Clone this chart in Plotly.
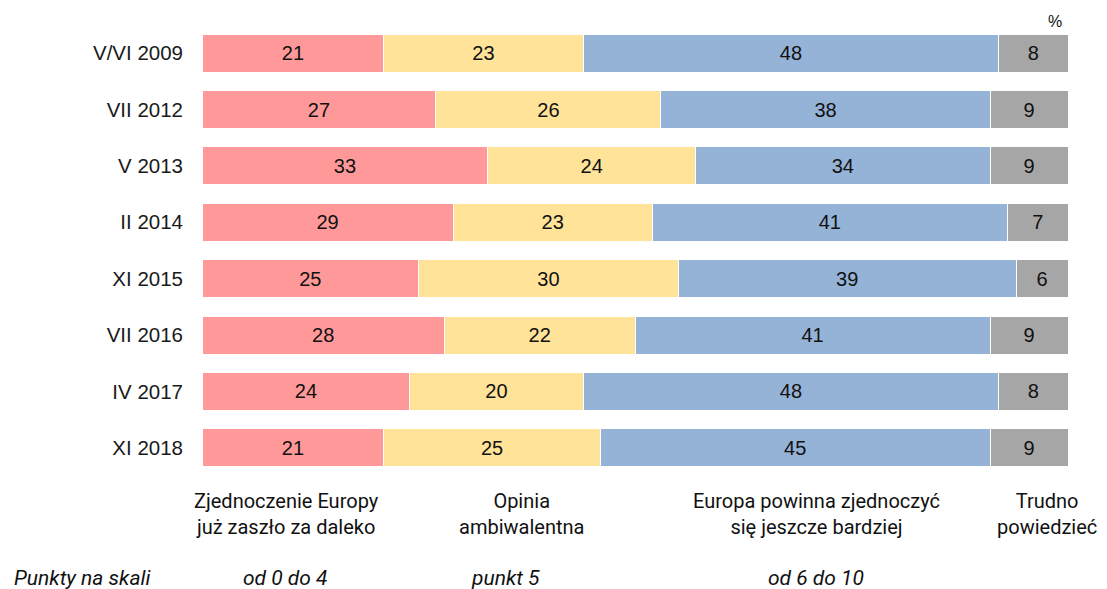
import plotly.graph_objects as go

periods = ["V/VI 2009", "VII 2012", "V 2013", "II 2014", "XI 2015", "VII 2016", "IV 2017", "XI 2018"]
too_far = [21, 27, 33, 29, 25, 28, 24, 21]
ambivalent = [23, 26, 24, 23, 30, 22, 20, 25]
unite_more = [48, 38, 34, 41, 39, 41, 48, 45]
hard_to_say = [8, 9, 9, 7, 6, 9, 8, 9]

series = [
    ("Zjednoczenie Europy już zaszło za daleko", too_far, "#FF9999"),
    ("Opinia ambiwalentna", ambivalent, "#FFE399"),
    ("Europa powinna zjednoczyć się jeszcze bardziej", unite_more, "#95B3D7"),
    ("Trudno powiedzieć", hard_to_say, "#A6A6A6"),
]

fig = go.Figure()
for name, vals, col in series:
    fig.add_trace(go.Bar(
        y=periods, x=vals, name=name, orientation="h",
        marker=dict(color=col, line=dict(color="white", width=1)),
        text=[str(v) for v in vals], textposition="inside",
        insidetextanchor="middle", textangle=0,
        textfont=dict(family="Liberation Sans, Arial", size=20, color="#111"),
        hoverinfo="skip",
    ))

OFF = 8  # page body margin
W, H = 1107 - OFF, 589 - OFF
L, R, T, B = 202 - OFF, 39, 25 - OFF, 113
pw = W - L - R
ph = H - T - B

def px(x):
    return (x - OFF - L) / pw

def py(y):
    return (H - B - (y - OFF)) / ph

annotations = []
cat_labels = [
    (286, "Zjednoczenie Europy<br>już zaszło za daleko"),
    (521, "Opinia<br>ambiwalentna"),
    (816, "Europa powinna zjednoczyć<br>się jeszcze bardziej"),
    (1047, "Trudno<br>powiedzieć"),
]
for x, t in cat_labels:
    annotations.append(dict(x=px(x), y=py(514), xref="paper", yref="paper", text=t,
                            showarrow=False, xanchor="center", yanchor="middle",
                            font=dict(family="Roboto", size=20, color="#111"),
                            align="center"))
scale_labels = [
    (82, "<i>Punkty na skali</i>"),
    (285, "<i>od 0 do 4</i>"),
    (505, "<i>punkt 5</i>"),
    (816, "<i>od 6 do 10</i>"),
]
for x, t in scale_labels:
    annotations.append(dict(x=px(x), y=py(578), xref="paper", yref="paper", text=t,
                            showarrow=False, xanchor="center", yanchor="middle",
                            font=dict(family="Roboto", size=21, color="#111")))
annotations.append(dict(x=px(1055), y=py(21), xref="paper", yref="paper", text="%",
                        showarrow=False, xanchor="center", yanchor="middle",
                        font=dict(family="Liberation Sans, Arial", size=16, color="#111")))

fig.update_layout(
    barmode="stack",
    bargap=0.326,
    width=W, height=H,
    margin=dict(l=L, r=R, t=T, b=B, pad=0),
    plot_bgcolor="white", paper_bgcolor="white",
    showlegend=False,
    xaxis=dict(range=[0, 100], visible=False, fixedrange=True),
    yaxis=dict(autorange="reversed", showgrid=False, showline=False, zeroline=False,
               ticks="", ticklabelstandoff=18,
               tickfont=dict(family="Liberation Sans, Arial", size=20.5, color="#1a1a1a")),
    annotations=annotations,
)

fig.write_html("out.html")
